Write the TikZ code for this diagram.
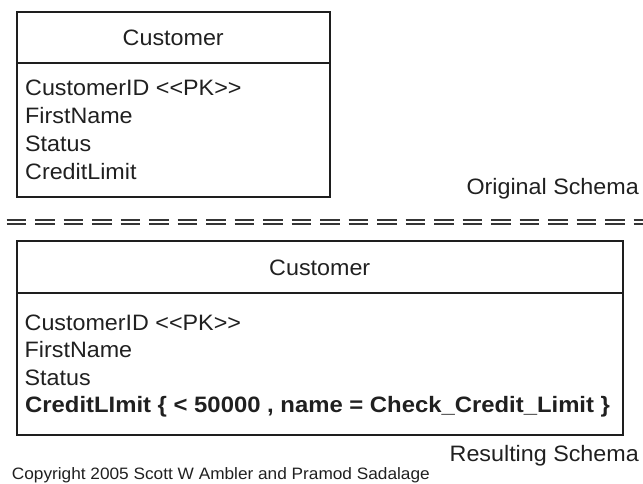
\documentclass[tikz,border=0pt]{standalone}
\usepackage{fontspec}
\newfontfamily\uifont{Liberation Sans}[FakeStretch=1.045]
\newfontfamily\uiboldfont{Liberation Sans Bold}[FakeStretch=1.07]
\definecolor{ink}{HTML}{1E1E1E}
\definecolor{txt}{HTML}{202020}
\begin{document}
\begin{tikzpicture}[x=1pt,y=-1pt,
  tablebox/.style={draw=ink,line width=2pt,inner sep=0pt},
  divider/.style={draw=ink,line width=2pt},
  label/.style={inner sep=0pt,text=txt,font=\uifont\fontsize{22.3}{27}\selectfont},
  boldlabel/.style={inner sep=0pt,text=txt,font=\uiboldfont\fontsize{22.3}{27}\selectfont},
  smalllabel/.style={inner sep=0pt,text=txt,font=\uifont\fontsize{16.5}{20}\selectfont},
  separator/.style={draw=ink!90,line width=2pt,dash pattern=on 19.5pt off 9pt}]
\useasboundingbox (0,0) rectangle (643,483);

% original table
\node[tablebox,minimum width=313.5pt,minimum height=185pt] (orig) at (173.25,104.5) {};
\coordinate (origL) at (16.5,63);
\coordinate (origR) at (330,63);
\draw[divider] (origL) -- (origR);
\node[label,anchor=base] (origTitle) at (173.25,45) {Customer};
\node[label,anchor=base west] (o1) at (25,95) {CustomerID <<PK>>};
\node[label,anchor=base west] (o2) at (25,123) {FirstName};
\node[label,anchor=base west] (o3) at (25,151) {Status};
\node[label,anchor=base west] (o4) at (25,179.5) {CreditLimit};
\node[label,anchor=base east] (origCap) at (639,194) {Original Schema};

% double dashed separator
\coordinate (sepA1) at (6.7,219.5);
\coordinate (sepA2) at (643,219.5);
\coordinate (sepB1) at (6.7,224);
\coordinate (sepB2) at (643,224);
\draw[separator] (sepA1) -- (sepA2);
\draw[separator] (sepB1) -- (sepB2);

% resulting table
\node[tablebox,minimum width=606.5pt,minimum height=194pt] (res) at (319.75,338) {};
\coordinate (resL) at (16.5,293);
\coordinate (resR) at (623,293);
\draw[divider] (resL) -- (resR);
\node[label,anchor=base] (resTitle) at (319.75,275) {Customer};
\node[label,anchor=base west] (r1) at (24.5,330) {CustomerID <<PK>>};
\node[label,anchor=base west] (r2) at (24.5,357.5) {FirstName};
\node[label,anchor=base west] (r3) at (24.5,385) {Status};
\node[boldlabel,anchor=base west] (r4) at (25,412.5) {CreditLImit \{ < 50000 , name = Check\_Credit\_Limit \}};
\node[label,anchor=base east] (resCap) at (639,461.7) {Resulting Schema};

\node[smalllabel,anchor=base west] (copy) at (11.7,479.3) {Copyright 2005 Scott W Ambler and Pramod Sadalage};
\end{tikzpicture}
\end{document}
